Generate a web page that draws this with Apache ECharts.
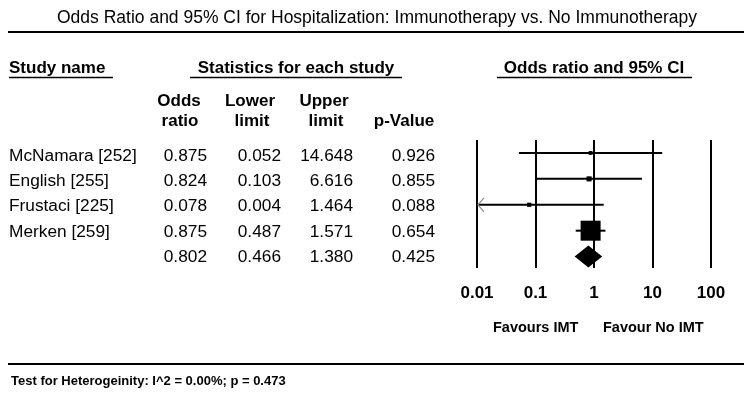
<!DOCTYPE html>
<html>
<head>
<meta charset="utf-8">
<script src="https://cdn.jsdelivr.net/npm/echarts@6/dist/echarts.min.js"></script>
<style>
  html, body { margin: 0; padding: 0; background: #fff; }
  #chart { width: 750px; height: 396px; }
</style>
</head>
<body>
<div id="chart"></div>
<script>
// data
var studyNames = ['McNamara [252]', 'English [255]', 'Frustaci [225]', 'Merken [259]', ''];
var oddsRatio  = [0.875, 0.824, 0.078, 0.875, 0.802];
var lowerLimit = [0.052, 0.103, 0.004, 0.487, 0.466];
var upperLimit = [14.648, 6.616, 1.464, 1.571, 1.380];
var pValue     = [0.926, 0.855, 0.088, 0.654, 0.425];
var weights    = [3.2, 5.6, 3.9, 87.3]; // relative weights (%), summary row has none
var tickLabels = ['0.01', '0.1', '1', '10', '100'];

var X_MIN = 0.01, X_MAX = 100;
var FONT = 'Liberation Sans, Arial, sans-serif';
var maxWeight = Math.max.apply(null, weights);
var summaryRow = studyNames.length - 1;

var chart = echarts.init(document.getElementById('chart'));

// study rows (squares + CI lines)
var studyData = [];
for (var i = 0; i < weights.length; i++) {
  studyData.push([i, oddsRatio[i], lowerLimit[i], upperLimit[i], weights[i]]);
}

function renderStudy(params, api) {
  var row = api.value(0);
  var or = api.value(1), lo = api.value(2), hi = api.value(3), w = api.value(4);
  var clipLo = lo < X_MIN, clipHi = hi > X_MAX;
  var pLo = api.coord([clipLo ? X_MIN : lo, row]);
  var pHi = api.coord([clipHi ? X_MAX : hi, row]);
  var pMid = api.coord([or, row]);
  var s = 20 * Math.sqrt(w / maxWeight);
  var children = [
    { type: 'line', shape: { x1: pLo[0], y1: pLo[1], x2: pHi[0], y2: pHi[1] },
      style: { stroke: '#000', lineWidth: 2 } },
    { type: 'rect', shape: { x: pMid[0] - s / 2, y: pMid[1] - s / 2, width: s, height: s },
      style: { fill: '#000' } }
  ];
  if (clipLo) {
    children.push({ type: 'polyline',
      shape: { points: [[pLo[0] + 7, pLo[1] - 7], [pLo[0] + 1, pLo[1]], [pLo[0] + 7, pLo[1] + 7]] },
      style: { stroke: '#8a8a8a', lineWidth: 1.2, fill: null } });
  }
  return { type: 'group', children: children };
}

function renderSummary(params, api) {
  var row = api.value(0);
  var pLo = api.coord([api.value(2), row]);
  var pHi = api.coord([api.value(3), row]);
  var pMid = api.coord([api.value(1), row]);
  return { type: 'polygon',
    shape: { points: [pLo, [pMid[0], pMid[1] - 11], pHi, [pMid[0], pMid[1] + 11]] },
    style: { fill: '#000' } };
}

// table text
var graphics = [];
function txt(x, y, s, size, bold, align) {
  graphics.push({ type: 'text', x: x, y: y + 1.5, silent: true,
    style: { text: s, fontSize: size, fontWeight: bold ? 'bold' : 'normal', fontFamily: FONT,
      fill: '#000', align: align || 'left', verticalAlign: 'middle' } });
}
function hline(x1, x2, y, lw) {
  graphics.push({ type: 'line', silent: true, shape: { x1: x1, y1: y, x2: x2, y2: y },
    style: { stroke: '#000', lineWidth: lw } });
}

hline(8, 744, 32, 2);
txt(9, 67, 'Study name', 17, true);
hline(9, 113, 77.5, 1.5);
txt(296, 67, 'Statistics for each study', 17, true, 'center');
hline(190, 402, 77.5, 1.5);
txt(594, 67, 'Odds ratio and 95% CI', 17, true, 'center');
hline(497, 692, 77.5, 1.5);

txt(179, 100, 'Odds', 17, true, 'center');
txt(180, 120, 'ratio', 17, true, 'center');
txt(250, 100, 'Lower', 17, true, 'center');
txt(252, 120, 'limit', 17, true, 'center');
txt(324, 100, 'Upper', 17, true, 'center');
txt(326, 120, 'limit', 17, true, 'center');
txt(404, 120, 'p-Value', 17, true, 'center');

for (var r = 0; r < studyNames.length; r++) {
  var y = 154.5 + 25.3 * r;
  txt(9, y, studyNames[r], 17.3, false);
  txt(207, y, oddsRatio[r].toFixed(3), 17.3, false, 'right');
  txt(281, y, lowerLimit[r].toFixed(3), 17.3, false, 'right');
  txt(353, y, upperLimit[r].toFixed(3), 17.3, false, 'right');
  txt(435, y, pValue[r].toFixed(3), 17.3, false, 'right');
}

txt(493, 326, 'Favours IMT', 14.5, true);
txt(603, 326, 'Favour No IMT', 14.5, true);

hline(8, 744, 364, 2);
txt(11, 380, 'Test for Heterogeinity: I^2 = 0.00%; p = 0.473', 13, true);

var option = {
  animation: false,
  backgroundColor: '#fff',
  title: {
    text: 'Odds Ratio and 95% CI for Hospitalization: Immunotherapy vs. No Immunotherapy',
    left: 57, top: 9, padding: 0,
    textStyle: { fontSize: 17.5, fontWeight: 'normal', fontFamily: FONT, color: '#000' }
  },
  grid: { left: 477, right: 39, top: 140, bottom: 128 },
  xAxis: {
    type: 'log', logBase: 10, min: X_MIN, max: X_MAX,
    axisLine: { show: false }, axisTick: { show: false },
    splitLine: { show: true, showMinLine: true, showMaxLine: true,
      lineStyle: { color: '#000', width: 2 } },
    axisLabel: {
      margin: 17, fontSize: 17, fontWeight: 'bold', fontFamily: FONT, color: '#000',
      formatter: function (v) { return tickLabels[Math.round(Math.log10(v)) + 2]; }
    }
  },
  yAxis: {
    type: 'value', min: -0.5, max: 4.44, inverse: true, show: false
  },
  graphic: graphics,
  series: [
    { type: 'custom', renderItem: renderStudy, data: studyData,
      encode: { x: [1, 2, 3], y: 0 }, clip: false, silent: true },
    { type: 'custom', renderItem: renderSummary,
      data: [[summaryRow, oddsRatio[summaryRow], lowerLimit[summaryRow], upperLimit[summaryRow]]],
      encode: { x: [1, 2, 3], y: 0 }, clip: false, silent: true }
  ]
};
chart.setOption(option);
</script>
</body>
</html>
